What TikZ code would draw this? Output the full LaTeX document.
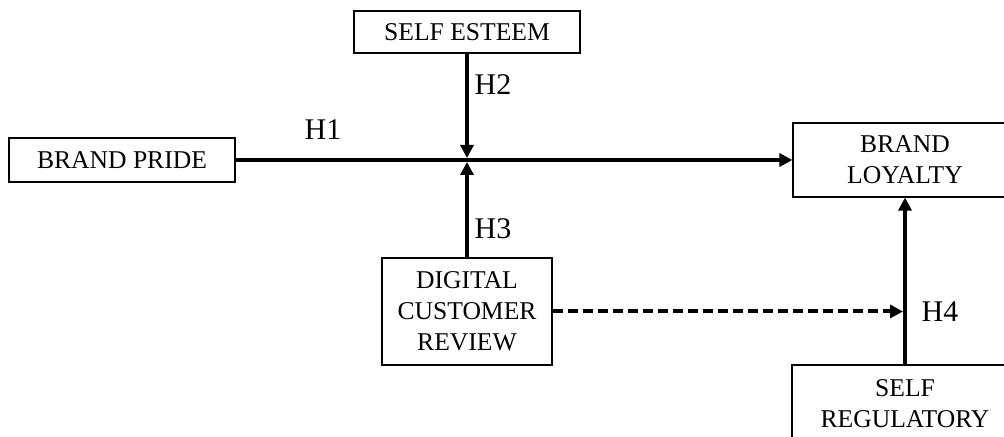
\documentclass[tikz,border=0pt]{standalone}
\usepackage{fontspec}
\setmainfont{Liberation Serif}
\usepackage{tikz}
\usetikzlibrary{arrows.meta}

\begin{document}
\begin{tikzpicture}[x=0.5pt, y=-0.5pt,
  box/.style={draw, line width=0.6pt, inner sep=0pt, align=center,
    font=\fontsize{12.8}{15.5}\selectfont},
  link/.style={line width=2pt, -{Triangle[length=6.5pt,width=6.5pt]}},
  hlabel/.style={inner sep=0pt, font=\fontsize{15}{17}\selectfont}]

\useasboundingbox (0,0) rectangle (1004,437);

% Draw the boxes
\node[box, minimum width=113pt, minimum height=22pt] (pride) at (122,160) {BRAND PRIDE};
\node[box, minimum width=113pt, minimum height=21pt] (esteem) at (467,32) {SELF ESTEEM};
\node[box, minimum width=112pt, minimum height=37pt] (loyalty) at (905,160) {BRAND\\LOYALTY};
\node[box, minimum width=85pt, minimum height=53.5pt] (digital) at (467,311.5) {DIGITAL\\CUSTOMER\\REVIEW};
\node[box, minimum width=113pt, minimum height=39pt] (regulatory) at (905,404) {SELF\\REGULATORY};

% Meeting points of the paths
\coordinate (meet) at (467,160);
\coordinate (dashend) at (903,311.5);

% Draw the paths
\draw[link] (pride) -- (loyalty);
\draw[link, shorten >=1pt] (esteem) -- (meet);
\draw[link, shorten >=1pt] (digital) -- (meet);
\draw[link, dash pattern=on 5pt off 2.5pt] (digital) -- (dashend);
\draw[link] (regulatory) -- (loyalty);

% Hypothesis labels
\foreach \n/\pos in {1/{(323,130)}, 2/{(493,85)}, 3/{(493,229)}, 4/{(940,312)}}
  \node[hlabel] (h\n) at \pos {H\n};

\end{tikzpicture}
\end{document}
